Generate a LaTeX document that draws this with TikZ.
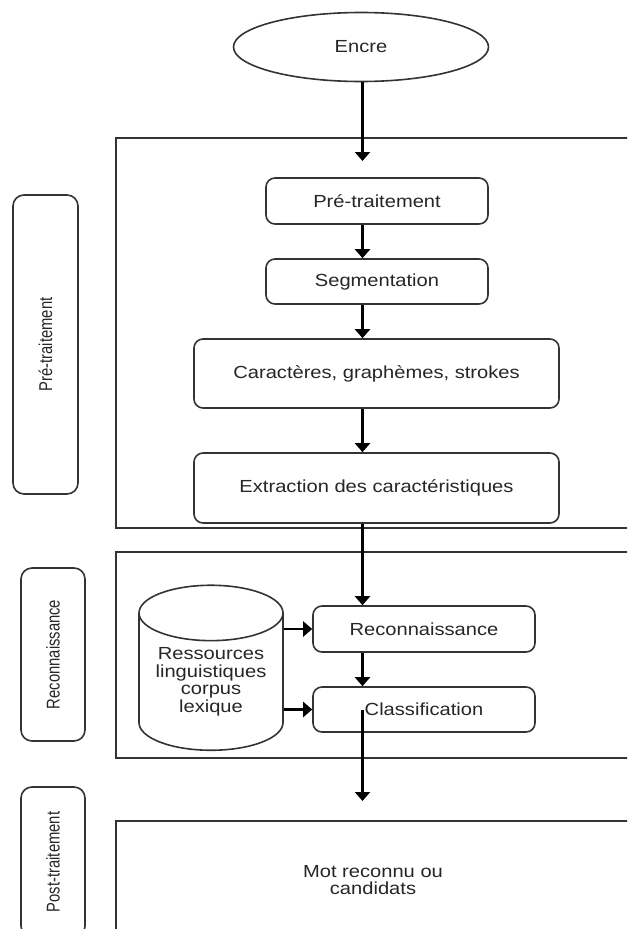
\documentclass[tikz,border=0pt]{standalone}
\usepackage{fontspec}
\setmainfont{Liberation Sans}[FakeStretch=1.15]
\newfontfamily\sidefont{Liberation Sans}[FakeStretch=0.8]
\usepackage{xcolor}
\usetikzlibrary{shapes.geometric, arrows.meta}
\definecolor{trait}{HTML}{333333}
\definecolor{texte}{HTML}{262626}

\begin{document}
\begin{tikzpicture}[x=1pt, y=-1pt,
        every node/.style={font=\fontsize{17.5}{17.5}\selectfont, text=texte, inner sep=0pt},
        etape/.style={draw=trait, line width=1.6pt, rectangle, rounded corners=9pt},
        phase/.style={draw=trait, line width=1.6pt, rectangle, rounded corners=11pt, rotate=90,
            font=\sidefont\fontsize{18.5}{18.5}\selectfont},
        cadre/.style={draw=trait, line width=1.8pt, rectangle, minimum width=514pt},
        >={Triangle[width=15pt, length=9pt]},
        fleche/.style={->, line width=2.2pt}]
        \useasboundingbox (0, 0) rectangle (627, 929);
        \clip (0, 0) rectangle (627, 929);

        \node (encre)      at (361.0,  47.0) [draw=trait, line width=1.6pt, ellipse, minimum width=255pt, minimum height=69pt] {Encre};

        \node (precadre)   at (373.0, 333.0) [cadre, minimum height=390pt] {};
        \node (reccadre)   at (373.0, 655.0) [cadre, minimum height=206pt] {};
        \node (postcadre)  at (373.0, 880.0) [cadre, minimum height=118pt, align=center] {Mot reconnu ou\\candidats};

        \node (prephase)   at ( 45.5, 344.5) [phase, minimum width=299pt, minimum height=65pt] {Pré-traitement};
        \node (recphase)   at ( 53.0, 654.5) [phase, minimum width=173pt, minimum height=64pt] {Reconnaissance};
        \node (postphase)  at ( 53.0, 862.0) [phase, minimum width=150pt, minimum height=64pt] {Post-traitement};

        \node (pretrait)   at (377.0, 201.0) [etape, minimum width=222pt, minimum height=46pt] {Pré-traitement};
        \node (segment)    at (377.0, 281.5) [etape, minimum width=222pt, minimum height=45pt] {Segmentation};
        \node (caract)     at (376.5, 373.5) [etape, minimum width=365pt, minimum height=69pt] {Caractères, graphèmes, strokes};
        \node (extract)    at (376.5, 488.0) [etape, minimum width=365pt, minimum height=70pt] {Extraction des caractéristiques};
        \node (reco)       at (424.0, 629.0) [etape, minimum width=222pt, minimum height=46pt] {Reconnaissance};
        \node (classif)    at (424.0, 709.5) [etape, minimum width=222pt, minimum height=45pt] {Classification};
        \node (ressources) at (211.0, 682.0) [draw=trait, line width=1.6pt, cylinder, shape border rotate=90, aspect=0.5,
            minimum width=144pt, minimum height=165pt, align=center] {Ressources\\linguistiques\\corpus\\lexique};

        \coordinate (axe)    at (362.5,   0.0);
        \coordinate (entree) at (362.5, 161.0);
        \coordinate (sortie) at (362.5, 801.0);

        \draw[fleche] (encre.south -| axe) -- (entree);
        \draw[fleche] (pretrait.south -| axe) -- (segment.north -| axe);
        \draw[fleche] (segment.south -| axe) -- (caract.north -| axe);
        \draw[fleche] (caract.south -| axe) -- (extract.north -| axe);
        \draw[fleche] (extract.south -| axe) -- (reco.north -| axe);
        \draw[fleche] (reco.south -| axe) -- (classif.north -| axe);
        \draw[fleche] (classif.center -| axe) -- (sortie);
        \draw[fleche] (ressources.east |- reco.west) -- (reco.west);
        \draw[fleche] (ressources.east |- classif.west) -- (classif.west);
    \end{tikzpicture}
\end{document}
